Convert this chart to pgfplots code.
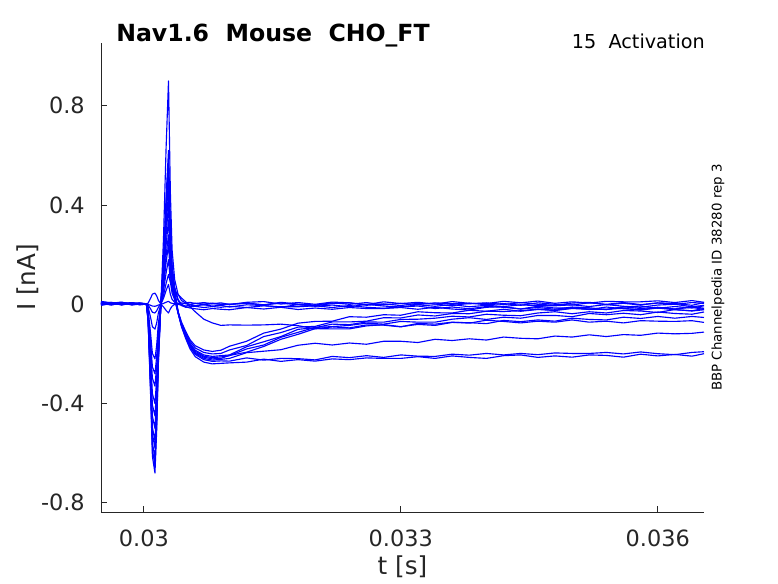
\documentclass[border=0pt]{standalone}
\usepackage{fontspec}
\setmainfont{DejaVu Sans}
\usepackage{pgfplots}
\usepackage{pgfplotstable}
\pgfplotsset{compat=1.18}
\definecolor{axgray}{RGB}{38,38,38}
\definecolor{trace}{RGB}{0,0,255}
\pgfplotstableread{
t a b c d e f g h i j k l m n o
0.02950 0.006 0.010 0.002 0.004 0.012 -0.003 0.008 0.000 0.005 -0.004 0.007 0.003 -0.002 0.009 0.001
0.02962 0.003 0.006 0.008 -0.003 0.005 0.004 0.001 0.007 -0.002 0.003 0.000 0.008 0.004 0.002 0.006
0.02974 0.008 0.002 -0.001 0.006 0.003 0.009 0.005 -0.003 0.004 0.007 0.002 -0.001 0.006 0.004 -0.002
0.02986 0.000 0.005 0.004 0.002 0.007 -0.002 0.003 0.005 0.001 -0.003 0.006 0.004 0.000 0.003 0.005
0.02995 0.004 -0.002 0.003 0.005 0.001 0.003 -0.001 0.002 0.006 0.001 0.003 0.000 0.004 -0.001 0.002
0.03003 0.002 0.001 0.002 0.001 0.000 0.002 0.001 0.000 0.002 0.001 0.000 0.002 0.001 0.000 0.001
0.03005 0.0045 -0.0035 -0.0008 -0.010 -0.068 -0.065 -0.062 -0.055 -0.050 -0.045 -0.040 -0.033 -0.022 -0.028 -0.058
0.03008 0.025 -0.019 -0.004 -0.055 -0.374 -0.358 -0.341 -0.303 -0.275 -0.248 -0.220 -0.182 -0.121 -0.154 -0.319
0.03010 0.041 -0.032 -0.007 -0.090 -0.612 -0.585 -0.558 -0.495 -0.450 -0.405 -0.360 -0.297 -0.198 -0.252 -0.522
0.03013 0.045 -0.035 -0.008 -0.100 -0.680 -0.650 -0.620 -0.550 -0.500 -0.450 -0.400 -0.330 -0.220 -0.280 -0.580
0.03015 0.034 -0.026 -0.006 -0.075 -0.510 -0.488 -0.465 -0.413 -0.375 -0.338 -0.300 -0.248 -0.165 -0.210 -0.435
0.03017 0.016 -0.012 -0.003 -0.035 -0.238 -0.228 -0.217 -0.193 -0.175 -0.158 -0.140 -0.116 -0.077 -0.098 -0.203
0.03020 0.000 0.002 0.000 0.000 0.010 0.008 0.006 0.005 0.004 0.004 0.003 0.002 0.000 0.001 0.006
0.03023 -0.0105 0.024 0.0036 0.036 0.270 0.186 0.165 0.150 0.135 0.120 0.102 0.084 0.054 0.072 0.174
0.03026 -0.0245 0.056 0.0084 0.084 0.630 0.434 0.385 0.350 0.315 0.280 0.238 0.196 0.126 0.168 0.406
0.030288 -0.035 0.080 0.012 0.120 0.900 0.620 0.550 0.500 0.450 0.400 0.340 0.280 0.180 0.240 0.580
0.03031 -0.018 0.040 0.006 0.090 0.450 0.310 0.275 0.250 0.225 0.200 0.170 0.140 0.090 0.120 0.290
0.03033 -0.008 0.020 0.004 0.070 0.220 0.160 0.140 0.125 0.113 0.100 0.085 0.070 0.045 0.060 0.145
0.03036 0.000 0.008 0.002 0.055 0.100 0.070 0.060 0.050 0.045 0.040 0.034 0.028 0.018 0.024 0.058
0.03040 0.003 0.004 0.000 0.040 0.040 0.020 0.015 -0.030 -0.0315 -0.032 -0.033 -0.034 -0.035 -0.036 -0.029
0.03044 0.006 0.000 -0.004 0.025 0.015 0.000 -0.005 -0.076 -0.080 -0.082 -0.084 -0.086 -0.087 -0.091 -0.072
0.03049 0.002 0.006 -0.007 0.010 0.005 -0.010 -0.012 -0.116 -0.122 -0.125 -0.128 -0.131 -0.133 -0.139 -0.110
0.03054 -0.002 0.008 -0.003 -0.010 0.000 -0.015 -0.010 -0.150 -0.158 -0.161 -0.165 -0.169 -0.173 -0.180 -0.143
0.03060 0.004 0.003 -0.006 -0.030 0.004 -0.018 -0.008 -0.176 -0.185 -0.189 -0.194 -0.198 -0.202 -0.211 -0.167
0.03070 0.001 0.007 -0.002 -0.060 -0.002 -0.022 -0.013 -0.194 -0.204 -0.209 -0.213 -0.218 -0.223 -0.233 -0.184
0.03080 0.005 0.002 -0.007 -0.075 0.003 -0.017 -0.009 -0.200 -0.210 -0.215 -0.220 -0.225 -0.230 -0.240 -0.190
0.03090 0.000 0.006 -0.004 -0.085 0.000 -0.020 -0.012 -0.198 -0.207 -0.212 -0.218 -0.222 -0.228 -0.238 -0.185
0.0310 0.000 -0.001 -0.011 -0.083 0.000 -0.022 -0.008 -0.184 -0.204 -0.207 -0.206 -0.218 -0.229 -0.236 -0.169
0.0312 0.004 0.008 -0.002 -0.084 0.005 -0.013 -0.013 -0.166 -0.171 -0.180 -0.193 -0.195 -0.216 -0.233 -0.149
0.0314 -0.003 0.011 -0.005 -0.083 -0.002 -0.019 -0.006 -0.130 -0.151 -0.164 -0.170 -0.189 -0.225 -0.221 -0.116
0.0316 0.005 0.001 -0.012 -0.080 0.008 -0.012 -0.010 -0.114 -0.130 -0.133 -0.141 -0.183 -0.218 -0.230 -0.100
0.0318 -0.002 0.007 -0.001 -0.086 0.001 -0.021 -0.010 -0.092 -0.101 -0.113 -0.121 -0.165 -0.219 -0.223 -0.076
0.0320 -0.006 0.000 -0.008 -0.099 -0.003 -0.015 -0.006 -0.089 -0.094 -0.093 -0.098 -0.157 -0.224 -0.229 -0.069
0.0322 0.003 0.009 -0.003 -0.091 0.006 -0.020 -0.013 -0.071 -0.080 -0.090 -0.099 -0.164 -0.210 -0.220 -0.068
0.0324 0.006 0.006 -0.010 -0.095 0.000 -0.013 -0.005 -0.071 -0.082 -0.085 -0.099 -0.156 -0.215 -0.223 -0.050
0.0326 -0.004 -0.001 0.000 -0.083 0.007 -0.017 -0.012 -0.068 -0.071 -0.076 -0.087 -0.161 -0.207 -0.216 -0.052
0.0328 0.002 0.010 -0.007 -0.084 -0.002 -0.017 -0.016 -0.054 -0.072 -0.080 -0.082 -0.149 -0.214 -0.218 -0.042
0.0330 -0.005 0.003 -0.011 -0.091 0.004 -0.013 -0.010 -0.055 -0.061 -0.069 -0.090 -0.149 -0.204 -0.218 -0.044
0.0332 0.004 0.008 -0.002 -0.077 -0.001 -0.020 -0.007 -0.043 -0.060 -0.072 -0.081 -0.154 -0.209 -0.211 -0.030
0.0334 0.001 0.001 -0.008 -0.080 0.006 -0.012 -0.017 -0.047 -0.056 -0.072 -0.085 -0.141 -0.210 -0.218 -0.034
0.0336 -0.006 0.011 -0.001 -0.072 0.002 -0.019 -0.011 -0.037 -0.048 -0.060 -0.073 -0.146 -0.201 -0.208 -0.035
0.0338 0.005 0.004 -0.010 -0.076 0.002 -0.023 -0.018 -0.038 -0.051 -0.054 -0.074 -0.139 -0.205 -0.214 -0.024
0.0340 -0.002 0.003 -0.004 -0.064 0.006 -0.012 -0.009 -0.028 -0.040 -0.061 -0.078 -0.144 -0.198 -0.218 -0.028
0.0342 0.003 0.012 -0.009 -0.069 -0.001 -0.009 -0.012 -0.029 -0.044 -0.052 -0.065 -0.132 -0.204 -0.207 -0.020
0.0344 -0.004 0.006 -0.002 -0.075 0.007 -0.019 -0.019 -0.026 -0.046 -0.056 -0.070 -0.137 -0.198 -0.204 -0.028
0.0346 0.006 0.013 -0.006 -0.068 0.000 -0.013 -0.008 -0.019 -0.035 -0.045 -0.063 -0.139 -0.203 -0.214 -0.021
0.0348 0.000 0.004 -0.006 -0.072 -0.004 -0.020 -0.015 -0.024 -0.030 -0.045 -0.068 -0.128 -0.196 -0.208 -0.025
0.0350 -0.003 0.010 -0.002 -0.063 0.005 -0.011 -0.014 -0.014 -0.038 -0.050 -0.056 -0.132 -0.198 -0.213 -0.017
0.0352 0.006 0.005 -0.009 -0.072 0.008 -0.014 -0.021 -0.019 -0.030 -0.037 -0.061 -0.123 -0.198 -0.204 -0.020
0.0354 0.000 0.012 -0.001 -0.068 -0.002 -0.021 -0.011 -0.021 -0.035 -0.042 -0.063 -0.130 -0.194 -0.206 -0.020
0.0356 0.007 0.010 -0.008 -0.075 0.004 -0.010 -0.018 -0.011 -0.025 -0.036 -0.052 -0.122 -0.200 -0.213 -0.016
0.0358 -0.001 0.010 -0.012 -0.066 -0.003 -0.017 -0.022 -0.007 -0.027 -0.042 -0.057 -0.125 -0.192 -0.201 -0.023
0.0360 0.005 0.014 -0.003 -0.068 0.006 -0.012 -0.013 -0.016 -0.033 -0.031 -0.049 -0.116 -0.199 -0.208 -0.015
0.0362 0.000 0.007 0.000 -0.069 0.003 -0.019 -0.019 -0.009 -0.021 -0.037 -0.056 -0.119 -0.203 -0.202 -0.022
0.0364 0.007 0.015 -0.010 -0.066 -0.004 -0.009 -0.012 -0.015 -0.027 -0.040 -0.049 -0.117 -0.194 -0.209 -0.026
0.03654 0.004 0.008 -0.004 -0.073 0.007 -0.016 -0.021 -0.006 -0.022 -0.031 -0.053 -0.112 -0.191 -0.199 -0.017
}\traces

\begin{document}
\begin{tikzpicture}
\begin{axis}[
  at={(0,0)}, anchor=south west,
  scale only axis, width=452.25pt, height=351.75pt,
  xmin=0.0295, xmax=0.03654, ymin=-0.837, ymax=1.053,
  clip mode=individual,
  axis x line*=bottom, axis y line*=left,
  axis line style={axgray, line width=0.5pt},
  xtick={0.03,0.033,0.036}, xticklabels={0.03,0.033,0.036},
  ytick={-0.8,-0.4,0,0.4,0.8}, yticklabels={-0.8,-0.4,0,0.4,0.8},
  tick align=inside, major tick length=4.5pt,
  tick style={axgray, line width=0.5pt},
  ticklabel style={font=\fontsize{16.8}{20}\selectfont, text=axgray},
  xticklabel style={inner sep=0pt, anchor=north, yshift=-13.2pt},
  yticklabel style={inner sep=0pt, anchor=east, xshift=-12pt},
  xlabel={t [s]}, ylabel={I [nA]},
  xlabel style={font=\fontsize{18.5}{22}\selectfont, text=axgray, at={(axis description cs:0.5,-0.1173)}, anchor=center, inner sep=0pt},
  ylabel style={font=\fontsize{18.5}{22}\selectfont, text=axgray, at={(axis description cs:-0.1211,0.5)}, anchor=center, inner sep=0pt},
  every axis title shift=0pt,
  title={\bfseries Nav1.6\ \ Mouse\ \ CHO\_FT},
  title style={font=\fontsize{17.7}{21}\selectfont, at={(axis description cs:0.0249,1.004)}, anchor=base west, inner sep=0pt},
  scaled x ticks=false, scaled y ticks=false,
]
\pgfplotsinvokeforeach{a,b,c,d,e,f,g,h,i,j,k,l,m,n,o}{
  \addplot[trace, line width=0.85pt, no marks, line join=round] table[x=t, y=#1]{\traces};
}
\node[anchor=base east, inner sep=0pt, font=\fontsize{14.4}{17}\selectfont] at (axis description cs:1.0017,0.9893) {15\ \ Activation};
\node[rotate=90, anchor=center, inner sep=0pt, font=\fontsize{10}{12}\selectfont] at (axis description cs:1.0232,0.5) {BBP Channelpedia ID 38280 rep 3};
\end{axis}
\pgfresetboundingbox
\path[use as bounding box] ([xshift=-75.75pt,yshift=-53.25pt]current axis.south west) rectangle ([xshift=55.5pt,yshift=32.25pt]current axis.north east);
\end{tikzpicture}
\end{document}
